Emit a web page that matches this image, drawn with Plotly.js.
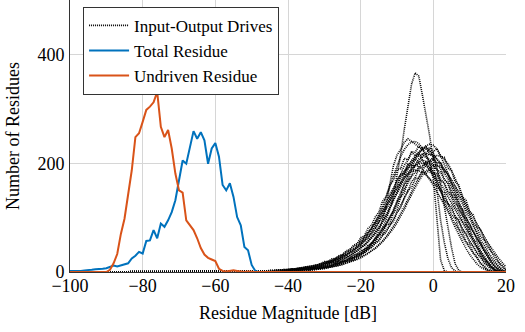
<!DOCTYPE html>
<html>
<head>
<meta charset="utf-8">
<script src="https://cdn.plot.ly/plotly-3.0.1.min.js"></script>
<style>
  html, body { margin: 0; padding: 0; background: #fff; }
  #chart { width: 525px; height: 332px; }
</style>
</head>
<body>
<div id="chart"></div>
<script>
// Histogram bin centres in dB, 1 dB wide, from -100 to 20.
const residueBins = [];
for (let d = -100; d <= 20; d++) residueBins.push(d);

// Total residue counts per bin (-100 .. 20 dB).
const totalResidue = [
  2, 2, 1, 2, 3, 3, 4, 5, 5, 6,
  7, 10, 12, 10, 12, 14, 16, 25, 30, 37,
  34, 57, 58, 77, 62, 89, 83, 95, 110, 132,
  172, 205, 199, 230, 259, 245, 257, 242, 199, 227,
  237, 212, 160, 150, 163, 138, 101, 86, 46, 40,
  13, 2, 0, 0, 0, 0, 0, 0, 0, 0,
  0, 0, 0, 0, 0, 0, 0, 0, 0, 0,
  0, 0, 0, 0, 0, 0, 0, 0, 0, 0,
  0, 0, 0, 0, 0, 0, 0, 0, 0, 0,
  0, 0, 0, 0, 0, 0, 0, 0, 0, 0,
  0, 0, 0, 0, 0, 0, 0, 0, 0, 0,
  0, 0, 0, 0, 0, 0, 0, 0, 0, 0,
  0
];

// Undriven residue counts per bin (-100 .. 20 dB).
const undrivenResidue = [
  0, 0, 0, 0, 0, 0, 0, 0, 0, 0,
  0, 4, 16, 33, 70, 98, 140, 187, 248, 255,
  276, 298, 304, 312, 331, 267, 248, 261, 227, 181,
  150, 146, 95, 85, 77, 62, 44, 32, 26, 23,
  20, 6, 2, 1, 2, 3, 2, 1, 0, 1,
  0, 0, 0, 0, 0, 0, 0, 0, 0, 0,
  0, 0, 0, 0, 0, 0, 0, 0, 0, 0,
  0, 0, 0, 0, 0, 0, 0, 0, 0, 0,
  0, 0, 0, 0, 0, 0, 0, 0, 0, 0,
  0, 0, 0, 0, 0, 0, 0, 0, 0, 0,
  0, 0, 0, 0, 0, 0, 0, 0, 0, 0,
  0, 0, 0, 0, 0, 0, 0, 0, 0, 0,
  0
];

// Input-output drive histograms: bins are -100 (empty below -48) and then -48 .. 20 dB.
const driveBins = [-100].concat(residueBins.slice(52));

const drive01 = [0, 1,1,2,3,2,3,4,3,5,4, 6,6,8,9,9,11,13,15,19,19, 24,25,30,32,39,41,49,52,63,66, 80,86,101,110,130,138,160,168,188,190, 209,206,220,214,218,206,203,184,178,160, 153,132,126,105,99,80,73,56,50,35, 28,16,11,3,1,0,0,0,0];
const drive02 = [0, 0,0,1,0,1,2,1,2,3,2, 4,3,3,5,4,6,8,7,10,9, 12,13,17,17,21,22,27,28,33,35, 42,45,53,57,67,73,86,93,109,118, 137,148,166,174,190,192,203,201,208,200, 201,186,181,164,158,140,133,115,107,90, 82,66,58,45,37,25,18,9,4];
const drive03 = [0, 0,1,2,1,2,3,2,3,4,3, 4,5,5,7,7,9,9,11,13,14, 17,19,21,25,27,31,35,39,45,49, 57,63,72,81,93,103,118,132,149,163, 180,192,205,213,221,224,227,222,218,207, 197,182,171,156,143,128,116,101,88,74, 63,50,39,28,19,10,4,1,0];
const drive04 = [0, 1,0,1,2,1,2,3,2,4,3, 4,4,6,6,8,8,10,11,13,14, 18,18,22,24,27,30,35,39,44,50, 56,64,72,82,92,104,117,132,145,159, 170,182,189,196,198,201,197,193,183,175, 162,152,139,127,114,103,90,78,67,55, 46,34,25,17,9,4,1,0,0];
const drive05 = [0, 0,1,0,1,2,1,2,3,2,3, 4,3,5,5,6,8,7,10,11,12, 15,16,19,20,24,26,31,33,39,42, 49,53,62,69,80,88,101,112,129,141, 160,171,188,196,208,211,218,215,216,207, 201,187,178,163,152,137,126,110,99,84, 73,59,49,37,28,18,10,4,1];
const drive06 = [0, 1,2,1,2,3,2,3,4,3,5, 5,7,7,9,9,11,13,15,16,19, 21,24,27,30,34,39,43,49,55,63, 71,80,90,102,115,129,142,156,167,178, 186,191,195,196,194,189,180,170,159,148, 136,124,112,100,88,76,65,54,44,34, 25,16,9,4,1,0,0,0,0];
const drive07 = [0, 0,0,0,1,0,1,1,2,1,2, 3,2,3,3,4,4,6,6,8,8, 9,11,13,15,16,19,21,24,27,30, 34,39,43,49,55,63,71,80,90,102, 115,129,143,155,167,178,186,191,195,196, 194,189,180,170,159,148,136,124,112,100, 88,76,65,54,44,34,25,17,9];
const drive08 = [0, 1,1,2,1,2,3,2,4,3,5, 4,6,6,7,10,9,12,12,16,16, 21,21,26,27,33,35,41,44,53,56, 67,71,85,92,109,117,138,148,170,179, 196,205,221,220,231,226,230,217,214,196, 190,170,163,142,135,114,107,87,80,61, 54,38,30,18,12,3,1,0,0];
const drive09 = [0, 0,0,1,1,0,2,1,2,3,2, 3,3,4,4,5,6,7,8,9,10, 12,14,15,18,20,22,25,29,32,37, 41,46,52,59,67,76,85,97,109,122, 135,150,155,171,173,185,181,188,180,181, 167,164,148,143,126,120,103,98,81,75, 59,53,40,33,22,16,9,3,1];
const drive10 = [0, 1,2,1,2,3,2,4,3,4,5, 5,7,6,9,8,11,12,14,14,18, 18,23,24,30,31,38,39,47,50,60, 63,77,82,97,104,124,131,153,158,179, 181,198,196,208,201,206,193,191,174,170, 151,146,126,121,101,96,77,71,54,48, 34,27,16,11,3,1,0,0,0];
const drive11 = [0, 0,0,1,0,1,2,1,3,2,3, 4,3,4,5,5,7,7,9,9,12, 12,16,16,20,20,26,27,33,34,41, 43,53,54,67,70,86,89,108,115,138, 145,168,176,197,201,218,216,229,221,227, 212,211,191,186,166,160,138,132,111,105, 84,78,60,53,37,31,18,12,4];
const drive12 = [0, 1,2,1,3,2,4,3,5,4,6, 5,7,8,9,10,11,12,14,15,18, 19,23,24,29,30,36,38,45,48,57, 61,71,78,91,99,116,126,144,156,173, 183,197,203,211,213,216,210,207,195,188, 171,163,146,137,120,111,94,85,69,61, 46,39,25,19,9,4,1,0,0];
const drive13 = [0, 0,0,1,0,1,1,1,2,1,2, 2,3,3,3,4,4,5,6,6,8, 10,11,13,15,17,20,23,27,31,35, 40,48,57,68,81,96,115,140,178,215, 262,308,345,366,360,325,290,250,205,145, 95,55,25,8,2,0,0,0,0,0, 0,0,0,0,0,0,0,0,0];
const drive14 = [0, 0,0,1,0,1,1,1,1,2,2, 2,3,3,4,4,5,5,6,7,8, 9,10,12,14,16,19,22,26,30,36, 43,52,62,75,95,120,160,195,215,225, 238,245,240,235,230,225,215,200,172,100, 22,3,0,0,0,0,0,0,0,0, 0,0,0,0,0,0,0,0,0];
const drive15 = [0, 0,1,1,1,2,2,2,3,3,3, 4,4,5,6,7,8,9,10,12,14, 16,18,20,23,26,29,33,38,43,49, 55,62,70,80,91,103,117,132,147,162, 176,189,200,210,220,228,230,224,212,190, 160,120,80,45,15,3,0,0,0,0, 0,0,0,0,0,0,0,0,0];
const drive16 = [0, 1,1,2,2,3,3,4,4,5,5, 6,7,8,9,10,11,13,15,17,19, 22,25,28,32,36,41,46,52,58,65, 73,81,90,100,110,121,132,143,154,164, 173,180,185,187,186,183,178,172,165,157, 148,138,127,116,104,92,80,68,57,46, 36,27,19,12,7,3,1,0,0];
const drive17 = [0, 0,0,1,1,1,1,2,2,2,3, 3,3,4,4,5,6,7,8,9,11, 13,15,17,19,22,25,28,32,36,41, 46,53,60,68,77,88,100,114,129,146, 162,178,193,206,217,226,232,235,233,226, 214,199,182,164,145,126,108,90,73,58, 44,32,22,14,8,4,1,0,0];
const drive18 = [0, 1,1,1,2,2,2,3,3,4,4, 5,5,6,7,8,9,10,12,14,16, 18,21,24,27,31,35,40,46,53,61, 70,80,92,105,120,137,156,176,195,212, 225,234,239,240,236,228,216,201,184,166, 148,130,113,97,82,68,55,43,32,23, 15,9,5,2,1,0,0,0,0];
const drive19 = [0, 0,0,0,0,1,1,1,1,2,2, 2,3,3,3,4,4,5,6,7,8, 9,10,12,14,16,18,20,23,26,30, 34,39,44,50,57,65,74,84,95,107, 120,134,148,162,175,187,197,205,211,214, 213,208,199,187,173,157,140,122,104,86, 69,53,39,27,17,10,5,2,1];
const drive20 = [0, 0,1,0,1,1,2,1,2,2,3, 2,4,3,5,4,6,6,8,8,11, 11,15,15,19,20,24,26,31,34,40, 45,52,58,67,76,86,98,110,124,137, 152,163,176,183,193,196,201,198,197,189, 183,171,163,148,139,123,114,98,88,73, 62,48,37,26,17,9,4,1,0];

const driveSeries = [drive01, drive02, drive03, drive04, drive05, drive06, drive07, drive08, drive09, drive10,
                     drive11, drive12, drive13, drive14, drive15, drive16, drive17, drive18, drive19, drive20];

const fontFamily = 'Liberation Serif, Times New Roman, serif';

const traces = driveSeries.map((counts, i) => ({
  type: 'scatter',
  mode: 'lines',
  x: driveBins,
  y: counts,
  name: 'Input-Output Drives',
  legendgroup: 'drives',
  showlegend: i === 0,
  line: { color: '#000000', width: 1.6, dash: '1px,1px' },
  hoverinfo: 'skip'
}));

traces.push({
  type: 'scatter',
  mode: 'lines',
  x: residueBins,
  y: totalResidue,
  name: 'Total Residue',
  line: { color: '#0072BD', width: 2 }
});

traces.push({
  type: 'scatter',
  mode: 'lines',
  x: residueBins,
  y: undrivenResidue,
  name: 'Undriven Residue',
  line: { color: '#D95319', width: 2 }
});

const layout = {
  width: 525,
  height: 332,
  margin: { l: 70, r: 19, t: 0, b: 60 },
  paper_bgcolor: '#ffffff',
  plot_bgcolor: '#ffffff',
  font: { family: fontFamily, size: 18, color: '#000000' },
  showlegend: true,
  legend: {
    x: 0.03, y: 0.975, xanchor: 'left', yanchor: 'top',
    bgcolor: '#ffffff',
    bordercolor: '#333333',
    borderwidth: 1,
    font: { family: fontFamily, size: 17, color: '#000000' },
    itemwidth: 40,
    tracegroupgap: 0
  },
  xaxis: {
    range: [-100, 20],
    tickvals: [-100, -80, -60, -40, -20, 0, 20],
    showgrid: true,
    gridcolor: '#d6d6d6',
    gridwidth: 1,
    zeroline: false,
    showline: true,
    linecolor: '#333333',
    linewidth: 1,
    ticks: '',
    ticklabelstandoff: -3,
    tickfont: { family: fontFamily, size: 18, color: '#000000' },
    title: { text: 'Residue Magnitude [dB]', font: { family: fontFamily, size: 18, color: '#000000' }, standoff: 11 }
  },
  yaxis: {
    range: [0, 500],
    tickvals: [0, 200, 400],
    showgrid: true,
    gridcolor: '#d6d6d6',
    gridwidth: 1,
    zeroline: false,
    showline: true,
    linecolor: '#333333',
    linewidth: 1,
    ticks: '',
    ticklabelstandoff: 1,
    tickfont: { family: fontFamily, size: 18, color: '#000000' },
    title: { text: 'Number of Residues', font: { family: fontFamily, size: 18, color: '#000000' }, standoff: 13 }
  }
};

Plotly.newPlot('chart', traces, layout, { displayModeBar: false, staticPlot: true });
</script>
</body>
</html>
